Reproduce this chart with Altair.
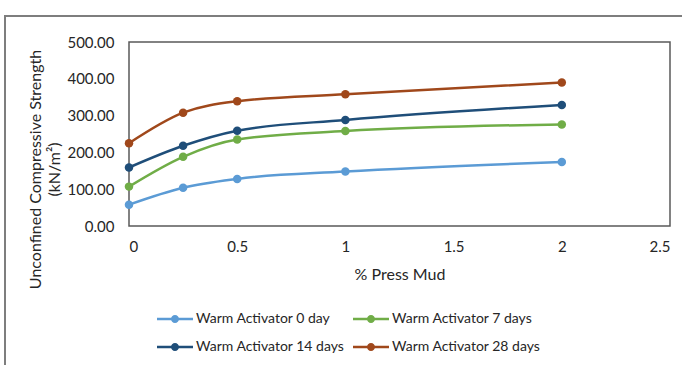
import altair as alt
import pandas as pd

press_mud = [0, 0.25, 0.5, 1, 2]
series_names = ["Warm Activator 0 day", "Warm Activator 7 days",
                "Warm Activator 14 days", "Warm Activator 28 days"]
ucs_0 = [58, 104, 128, 148, 174]
ucs_7 = [107, 188, 235, 258, 276]
ucs_14 = [159, 218, 259, 288, 329]
ucs_28 = [225, 308, 339, 358, 390]
colors = ["#5B9BD5", "#70AD47", "#1F4E79", "#A0481B"]

rows = []
for name, vals in zip(series_names, [ucs_0, ucs_7, ucs_14, ucs_28]):
    for x, v in zip(press_mud, vals):
        rows.append({"x": x, "y": v, "series": name})
df = pd.DataFrame(rows)

FONT = "Lato"
TXT = "#262626"

xenc = alt.X("x:Q", scale=alt.Scale(domain=[0, 2.5], nice=False),
             axis=alt.Axis(values=[0, 0.5, 1, 1.5, 2, 2.5], format="~g",
                           title="% Press Mud", grid=False, ticks=False, domain=False,
                           labelPadding=13, labelFontSize=15, titleFontSize=16,
                           titlePadding=12, titleFontWeight="normal"))
yenc = alt.Y("y:Q", scale=alt.Scale(domain=[0, 500], nice=False),
             axis=alt.Axis(values=[0, 100, 200, 300, 400, 500], format=".2f",
                           title=["Unconfined Compressive Strength", "(kN/m²)"],
                           grid=False, ticks=False, domain=False,
                           labelPadding=15, labelFontSize=15, titleFontSize=16,
                           titleFontWeight="normal", titleX=-94, titleY=127,
                           titleBaseline="middle", titleLineHeight=19))

sym = "M-2,-0.14H2V0.14H-2Z M0.45,0A0.45,0.45,0,1,1,-0.45,0A0.45,0.45,0,1,1,0.45,0Z"
legend = alt.Legend(title=None, orient="none", legendX=37, legendY=268, columns=2,
                    direction="horizontal", symbolType=sym, symbolSize=324,
                    symbolStrokeWidth=0, symbolFillColor="#888",
                    labelFontSize=14, labelOffset=12, columnPadding=8,
                    rowPadding=12, labelFont=FONT, labelColor=TXT)
color = alt.Color("series:N", scale=alt.Scale(domain=series_names, range=colors),
                  legend=legend)

base = alt.Chart(df).encode(x=xenc, y=yenc, color=color)
lines = base.mark_line(interpolate="monotone", strokeWidth=2.5)
points = base.mark_circle(size=72, opacity=1)
frame = alt.Chart(df).mark_rect(fill=None, stroke="#7f7f7f", strokeWidth=1.5).encode(
    x=alt.value(-124), x2=alt.value(700), y=alt.value(-26), y2=alt.value(400)
)

chart = alt.layer(points, lines, frame).properties(
    width=541, height=184,
    autosize=alt.AutoSizeParams(type="none"),
    padding={"left": 129, "top": 42, "right": 12, "bottom": 139},
    background="white",
).configure_view(stroke="#595959", strokeWidth=1.5).configure_axis(
    labelFont=FONT, titleFont=FONT, labelColor=TXT, titleColor=TXT
)

chart.save("out.html", embed_options={"renderer": "svg", "actions": False})
